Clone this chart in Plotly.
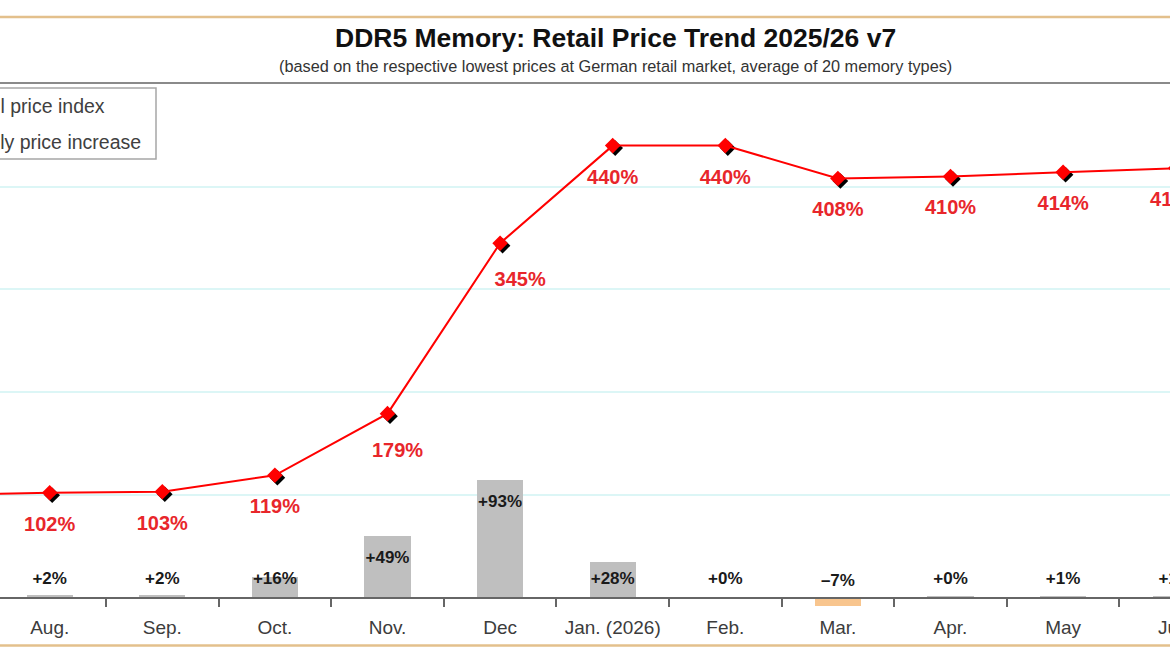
import plotly.graph_objects as go

# ---------------- data ----------------
months = ["Jul.", "Aug.", "Sep.", "Oct.", "Nov.", "Dec", "Jan. (2026)",
          "Feb.", "Mar.", "Apr.", "May", "Jun."]
price_index = [100, 102, 103, 119, 179, 345, 440, 440, 408, 410, 414, 418]
monthly_change = [0, 2, 2, 16, 49, 93, 28, 0, -7, 0.4, 1, 1]
legend_labels = ["Retail price index", "Monthly price increase"]
title_text = "DDR5 Memory: Retail Price Trend 2025/26 v7"
subtitle_text = ("(based on the respective lowest prices at German retail market, "
                 "average of 20 memory types)")

# ---------------- geometry / style ----------------
W, H = 1170, 658
M_T, M_B = 83, 45
plot_h = H - M_T - M_B
zero_px = 597.5          # y pixel of the 0 line
cat_px = 112.6           # width of one month
first_px = 49.7          # pixel centre of the 2nd month
y1_ppu = 1.027           # px per index-%
y2_ppu = 1.265           # px per change-%

idx = list(range(len(months)))
x_lo = 1 - first_px / cat_px
x_hi = x_lo + W / cat_px
below = (M_T + plot_h) - zero_px
above = zero_px - M_T
y1_range = [-below / y1_ppu, above / y1_ppu]
y2_range = [-below / y2_ppu, above / y2_ppu]

FONT = "Arial, Liberation Sans, sans-serif"
RED = "#ff0000"
RED_TXT = "#e8262b"
GRID = "#dcf6f6"
AXIS = "#666666"
TAN = "#e3c08c"

def px_to_paper_y(py):
    return (M_T + plot_h - py) / plot_h

def px_to_paper_x(px):
    return px / W

# months whose labels lie (at least partly) inside the visible window
vis = [i for i in idx if i + 0.5 > x_lo]

fig = go.Figure()

# bars (monthly change) on secondary scale
bar_colors = ["#f8c58e" if v < 0 else "#bfbfbf" for v in monthly_change]
fig.add_trace(go.Bar(x=idx, y=monthly_change, width=0.41, marker_color=bar_colors,
                     marker_line_width=0, yaxis="y2", hoverinfo="skip"))

def change_label(v):
    s = f"{v:+.0f}%"
    return s.replace("-", "\u2013")

def change_label_y(v):
    inside = v - 23 / y2_ppu
    if inside > 18 / y2_ppu:
        return inside
    return 18 / y2_ppu if v >= 0 else 15.5 / y2_ppu

fig.add_trace(go.Scatter(x=vis, y=[change_label_y(monthly_change[i]) for i in vis],
                         text=[change_label(monthly_change[i]) for i in vis],
                         mode="text", yaxis="y2", cliponaxis=True,
                         textfont=dict(family=FONT, size=17, color="#1a1a1a", weight="bold"),
                         hoverinfo="skip"))

# shadow of the diamond markers
sh = 2.5
fig.add_trace(go.Scatter(x=[i + sh / cat_px for i in idx],
                         y=[v - sh / y1_ppu for v in price_index],
                         mode="markers", marker=dict(symbol="diamond", size=12, color="#000000",
                                                     line_width=0),
                         cliponaxis=True, hoverinfo="skip"))
# price index line
fig.add_trace(go.Scatter(x=idx, y=price_index, mode="lines+markers",
                         line=dict(color=RED, width=2),
                         marker=dict(symbol="diamond", size=12, color=RED, line_width=0),
                         cliponaxis=True, hoverinfo="skip"))

# index labels
nudge = {4: (10, 5), 5: (20, 5)}
lab_x, lab_y, lab_t = [], [], []
for i in vis:
    v = price_index[i]
    dx, dy = nudge.get(i, (0, 0))
    lab_x.append(i + dx / cat_px)
    lab_y.append(v - (33 + dy) / y1_ppu)
    lab_t.append(f"{v:.0f}%")
fig.add_trace(go.Scatter(x=lab_x, y=lab_y, text=lab_t,
                         mode="text", cliponaxis=True,
                         textfont=dict(family=FONT, size=20, color=RED_TXT, weight="bold"),
                         hoverinfo="skip"))

# ---------------- axes ----------------
fig.update_layout(
    width=W, height=H,
    margin=dict(l=0, r=0, t=M_T, b=M_B, pad=0, autoexpand=False),
    paper_bgcolor="white", plot_bgcolor="white",
    showlegend=False,
    bargap=0,
    xaxis=dict(range=[x_lo, x_hi], tickmode="array", tickvals=idx, ticktext=months,
               ticks="", showgrid=False, zeroline=False,
               showline=True, linecolor=AXIS, linewidth=2,
               anchor="free", position=px_to_paper_y(zero_px),
               tickfont=dict(family=FONT, size=19, color="#3c3c3c"),
               ticklabelstandoff=13,
               minor=dict(tickmode="array", tickvals=[i + 0.5 for i in idx[:-1]],
                          ticks="outside", ticklen=8, tickcolor=AXIS, tickwidth=1.5,
                          showgrid=False)),
    yaxis=dict(range=y1_range, tickmode="linear", tick0=0, dtick=100,
               showgrid=True, gridcolor=GRID, gridwidth=1.5, zeroline=False,
               showticklabels=False, ticks="", showline=False),
    yaxis2=dict(range=y2_range, overlaying="y", side="right", showgrid=False,
                zeroline=False, showticklabels=False, ticks="", showline=False),
)

# ---------------- frame, titles, legend ----------------
shapes = [
    dict(type="line", xref="paper", yref="paper", x0=0, x1=1,
         y0=px_to_paper_y(17), y1=px_to_paper_y(17), line=dict(color=TAN, width=2.5)),
    dict(type="line", xref="paper", yref="paper", x0=0, x1=1,
         y0=px_to_paper_y(645.5), y1=px_to_paper_y(645.5), line=dict(color=TAN, width=2.5)),
    dict(type="line", xref="paper", yref="paper", x0=0, x1=1,
         y0=1, y1=1, line=dict(color="#8a8a8a", width=2)),
    dict(type="rect", xref="paper", yref="paper",
         x0=px_to_paper_x(-80), x1=px_to_paper_x(156),
         y0=px_to_paper_y(159), y1=px_to_paper_y(88),
         line=dict(color="#a6a6a6", width=1.5), fillcolor="white", layer="above"),
]
fig.update_layout(shapes=shapes)

ann = [
    dict(text=f"<b>{title_text}</b>", xref="paper", yref="paper",
         x=px_to_paper_x(615), y=px_to_paper_y(38), xanchor="center", yanchor="middle",
         showarrow=False, font=dict(family=FONT, size=26.5, color="#111111")),
    dict(text=subtitle_text, xref="paper", yref="paper",
         x=px_to_paper_x(615), y=px_to_paper_y(66), xanchor="center", yanchor="middle",
         showarrow=False, font=dict(family=FONT, size=16.3, color="#333333")),
    dict(text=legend_labels[0], xref="paper", yref="paper",
         x=px_to_paper_x(107), y=px_to_paper_y(106), xanchor="right", yanchor="middle",
         showarrow=False, font=dict(family=FONT, size=19.5, color="#404040")),
    dict(text=legend_labels[1], xref="paper", yref="paper",
         x=px_to_paper_x(142.5), y=px_to_paper_y(142), xanchor="right", yanchor="middle",
         showarrow=False, font=dict(family=FONT, size=19.5, color="#404040")),
    # last month label, whose centre lies just beyond the visible range
    dict(text=months[-1], xref="paper", yref="paper",
         x=(idx[-1] - x_lo) / (x_hi - x_lo), y=px_to_paper_y(627),
         xanchor="center", yanchor="middle", showarrow=False,
         font=dict(family=FONT, size=19, color="#3c3c3c")),
]
fig.update_layout(annotations=ann)

fig.write_html("out.html")
